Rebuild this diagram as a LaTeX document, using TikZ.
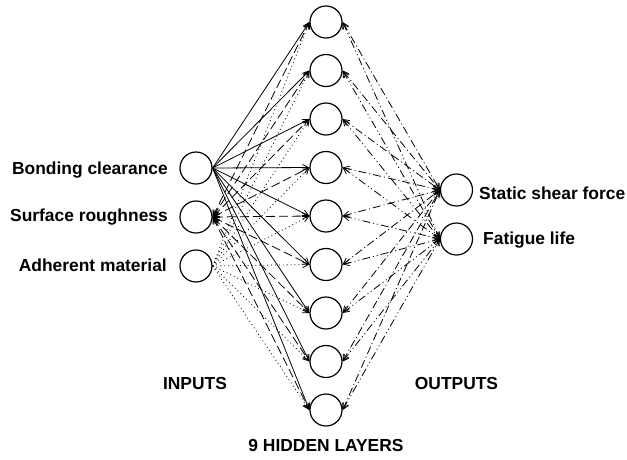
\documentclass[tikz,border=0pt]{standalone}
\usepackage{fontspec}
\setmainfont{Liberation Sans}
\usetikzlibrary{arrows.meta}
\begin{document}
\begin{tikzpicture}[x=1pt,y=-1pt,
  neuron/.style={circle,draw,line width=1.2pt,minimum size=32pt,inner sep=0pt},
  lbl/.style={font=\fontsize{17.4}{20}\selectfont\bfseries,inner sep=0pt},
  tip/.style={-{Straight Barb[length=6pt,width=6pt]}},
  bothtip/.style={{Straight Barb[length=6pt,width=6pt]}-{Straight Barb[length=6pt,width=6pt]}},
  link/.style={line width=0.8pt},
  solidlink/.style={link,tip},
  dashlink/.style={link,bothtip,dash pattern=on 9pt off 4pt},
  dotlink/.style={link,tip,dash pattern=on 0.9pt off 3pt},
  dashdotlink/.style={link,bothtip,dash pattern=on 8pt off 3pt on 1pt off 3pt},
  dashdotdotlink/.style={link,bothtip,dash pattern=on 8pt off 3pt on 1pt off 3pt on 1pt off 3pt}]
\useasboundingbox (0,0) rectangle (627,459);
% input neurons
\node[neuron] (in1) at (196,168) {};
\node[neuron] (in2) at (196,217) {};
\node[neuron] (in3) at (196,266) {};
% hidden neurons
\foreach \k/\yy in {1/22,2/70.5,3/119,4/167.5,5/216,6/264.5,7/313,8/361.5,9/410}
  \node[neuron] (h\k) at (326,\yy) {};
% output neurons
\node[neuron] (o1) at (456.5,190) {};
\node[neuron] (o2) at (456.5,239) {};
% labels
\node[lbl,anchor=east] (l1) at (168,170) {Bonding clearance};
\node[lbl,anchor=east] (l2) at (168,217) {Surface roughness};
\node[lbl,anchor=east] (l3) at (167,265) {Adherent material};
\node[lbl,anchor=west] (l4) at (479,193) {Static shear force};
\node[lbl,anchor=west] (l5) at (483,240) {Fatigue life};
\node[lbl] (l6) at (195,384) {INPUTS};
\node[lbl] (l7) at (456.5,384) {OUTPUTS};
\node[lbl] (l8) at (326,446) {9 HIDDEN LAYERS};
% connectors
\foreach \k in {1,...,9}{
  \draw[solidlink] (in1.east) -- (h\k.west);
  \draw[dashlink] (in2.east) -- (h\k.west);
  \draw[dotlink] (in3.east) -- (h\k.west);
  \draw[dashdotlink] (h\k.east) -- (o1.west);
  \draw[dashdotdotlink] (h\k.east) -- (o2.west);
}
\end{tikzpicture}
\end{document}
